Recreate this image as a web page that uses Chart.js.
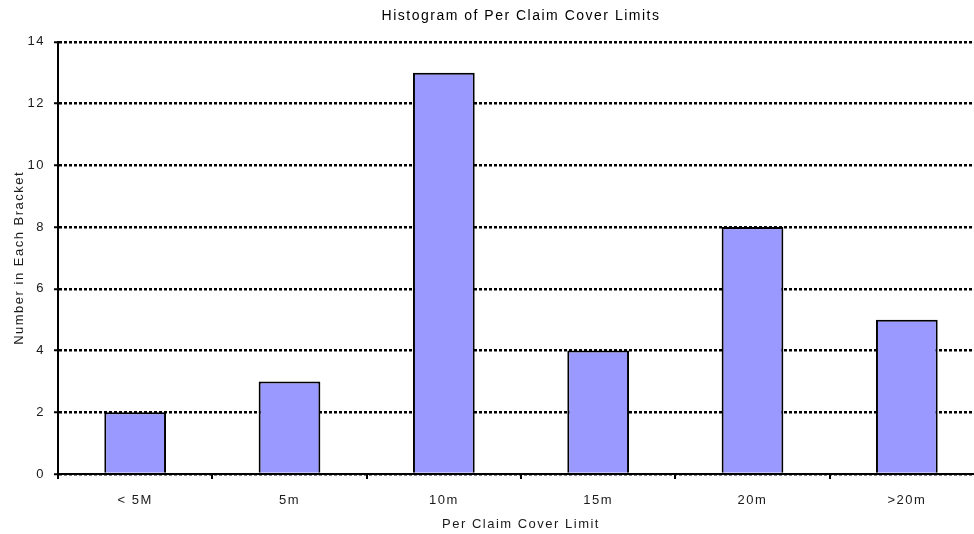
<!DOCTYPE html>
<html>
<head>
<meta charset="utf-8">
<script src="https://cdn.jsdelivr.net/npm/chart.js@4/dist/chart.umd.min.js"></script>
<style>
  html, body { margin: 0; padding: 0; background: #fff; overflow: hidden; }
  #wrap { position: absolute; left: 0; top: 0; width: 984px; height: 534px; }
</style>
</head>
<body>
<div id="wrap"><canvas id="claim_chart" width="984" height="534"></canvas></div>
<script>
// data
const brackets = ['< 5M', '5m', '10m', '15m', '20m', '>20m'];
const counts = [2, 3, 13, 4, 8, 5];
const yTicks = [0, 2, 4, 6, 8, 10, 12, 14];

const fontFamily = '"Liberation Sans", Arial, sans-serif';

// the original text is set a little loose, so widen the letters a bit
const spacingPlugin = {
    id: 'spacing',
    beforeUpdate: function(chart){ chart.ctx.letterSpacing = '1.5px'; },
    beforeDraw: function(chart){ chart.ctx.letterSpacing = '1.5px'; }
};

function initClaimChart(){
    const ctx = document.getElementById('claim_chart').getContext('2d');
    var chart = new Chart(ctx, {
        type: 'bar',
        plugins: [spacingPlugin],
        data: {
            labels: brackets,
            datasets: [{
                label: 'Number in Each Bracket',
                backgroundColor: '#9999ff',
                borderColor: '#000000',
                borderWidth: 2,
                barPercentage: 0.4,
                categoryPercentage: 1.0,
                data: counts
            }]
        },
        options: {
            responsive: false,
            animation: false,
            layout: { padding: { left: 0, right: 0, top: 0, bottom: 0 } },
            plugins: {
                legend: { display: false },
                tooltip: { enabled: false },
                title: {
                    display: true,
                    text: 'Histogram of Per Claim Cover Limits',
                    fullSize: false,
                    color: '#000',
                    font: { family: fontFamily, size: 14, weight: 'normal' },
                    padding: { top: 8, bottom: 17 }
                }
            },
            scales: {
                x: {
                    offset: true,
                    afterFit: function(scale){ scale.height = 60; },
                    grid: {
                        display: true,
                        offset: true,
                        drawOnChartArea: false,
                        drawTicks: true,
                        tickLength: 5,
                        color: '#000',
                        lineWidth: 2
                    },
                    border: { display: true, color: '#000', width: 2 },
                    ticks: {
                        color: '#1a1a1a',
                        padding: 14,
                        maxRotation: 0,
                        font: { family: fontFamily, size: 13 }
                    },
                    title: {
                        display: true,
                        text: 'Per Claim Cover Limit',
                        color: '#1a1a1a',
                        font: { family: fontFamily, size: 13 },
                        padding: { top: 2, bottom: 2 }
                    }
                },
                y: {
                    min: 0,
                    max: 14,
                    afterFit: function(scale){ scale.width = 58; },
                    afterBuildTicks: function(scale){
                        scale.ticks = yTicks.map(v => ({ value: v }));
                    },
                    grid: {
                        color: '#000',
                        lineWidth: 2.5,
                        tickLength: 4,
                        tickBorderDash: [],
                        tickColor: '#000',
                        tickWidth: 2
                    },
                    border: { display: true, color: '#000', width: 2, dash: [3, 2] },
                    ticks: {
                        color: '#1a1a1a',
                        padding: 9,
                        font: { family: fontFamily, size: 13 }
                    },
                    title: {
                        display: true,
                        text: 'Number in Each Bracket',
                        color: '#1a1a1a',
                        font: { family: fontFamily, size: 13 },
                        padding: { top: 12, bottom: 4 }
                    }
                }
            }
        }
    });
}

initClaimChart();
</script>
</body>
</html>
